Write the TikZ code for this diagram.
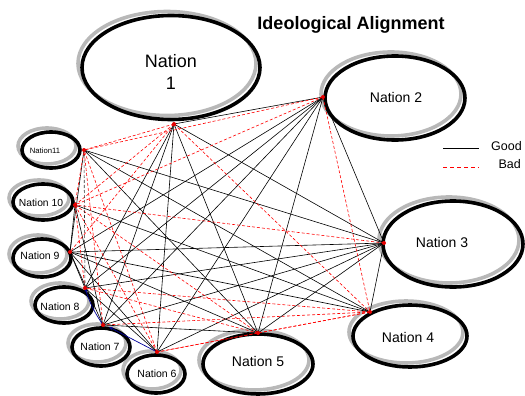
\documentclass[tikz,border=0pt]{standalone}
\usepackage{fontspec}
\setmainfont{Liberation Sans}
\usetikzlibrary{shapes.geometric,arrows.meta}
\begin{document}
\begin{tikzpicture}[x=1pt,y=-1pt,
  nat/.style={ellipse,draw=black,line width=3.6pt,inner sep=0pt},
  shad/.style={ellipse,draw=black!28,line width=3.6pt,inner sep=0pt},
  good/.style={draw=black,line width=0.6pt},
  bad/.style={draw=red,line width=0.6pt,dash pattern=on 3pt off 2pt},
  odd/.style={draw=black!80,line width=0.6pt,dash pattern=on 3pt off 2pt},
  blu/.style={draw=blue!60!black,line width=0.7pt,-{Stealth[length=4pt,width=3pt]}},
  mk/.style={circle,fill=red!90!black,inner sep=0pt,minimum size=4pt},
  lab/.style={inner sep=0pt,align=center}]
\useasboundingbox (0,0) rectangle (525,396);
% shadows
\foreach \n/\x/\y/\rx/\ry in {1/171/67.5/89/52, 2/395/98/70/42, 3/453/244/70/43, 4/410/336/57/31, 5/258/364/55/30, 6/156/374/29/19, 7/101/347/29/19, 8/64/305/29/18, 9/42/258/29/19, 10/43/202/30/18, 11/51/150/29/18}
  \node[shad,minimum width=2*\rx pt,minimum height=2*\ry pt] (s\n) at (\x-4,\y-4) {};
\foreach \n/\x/\y/\rx/\ry in {1/171/67.5/89/52, 2/395/98/70/42, 3/453/244/70/43, 4/410/336/57/31, 5/258/364/55/30, 6/156/374/29/19, 7/101/347/29/19, 8/64/305/29/18, 9/42/258/29/19, 10/43/202/30/18, 11/51/150/29/18}
  \node[nat,minimum width=2*\rx pt,minimum height=2*\ry pt] (n\n) at (\x,\y) {};
% labels
\node[lab,font=\fontsize{18}{22}\selectfont] (t1) at (171,72) {Nation\\1};
\node[lab,font=\fontsize{14}{16}\selectfont] (t2) at (396,97) {Nation 2};
\node[lab,font=\fontsize{14}{16}\selectfont] (t3) at (442,242) {Nation 3};
\node[lab,font=\fontsize{14}{16}\selectfont] (t4) at (408,337) {Nation 4};
\node[lab,font=\fontsize{14}{16}\selectfont] (t5) at (258,361) {Nation 5};
\node[lab,font=\fontsize{10.5}{12}\selectfont] (t6) at (157,374) {Nation 6};
\node[lab,font=\fontsize{10.5}{12}\selectfont] (t7) at (100,347) {Nation 7};
\node[lab,font=\fontsize{10.5}{12}\selectfont] (t8) at (60,307) {Nation 8};
\node[lab,font=\fontsize{10.5}{12}\selectfont] (t9) at (40,256) {Nation 9};
\node[lab,font=\fontsize{10.3}{12}\selectfont] (t10) at (41,203) {Nation 10};
\node[lab,font=\fontsize{7.7}{9}\selectfont] (t11) at (45,151) {Nation11};
\node[lab,font=\bfseries\fontsize{18}{20}\selectfont] (title) at (351,25) {Ideological Alignment};
% anchors
\coordinate (a1) at (174,124);
\coordinate (a2) at (323,97);
\coordinate (a3) at (384,243);
\coordinate (a4) at (370,312);
\coordinate (a5) at (258,333);
\coordinate (a6) at (157,352);
\coordinate (a7) at (103,325);
\coordinate (a7b) at (109,327);
\coordinate (a8) at (85,288);
\coordinate (a9) at (70,252);
\coordinate (a10) at (75,205);
\coordinate (a11) at (84,150);
% good edges
\foreach \u/\v in {1/2,1/3,1/5,1/6,1/7,1/8,2/3,2/5,2/6,2/7,2/8,2/9,3/4,3/5,3/6,3/7,3/8,3/9,3/11,4/9,4/10,4/11,5/7,5/9,5/11,6/8,6/9,7/9,7/10,8/9,9/10,9/11}
  \draw[good] (a\u) -- (a\v);
% bad edges
\foreach \u/\v in {1/4,1/9,1/10,1/11,2/4,2/10,2/11,3/10,4/5,4/6,4/7,4/8,5/6,5/8,5/10,6/10,6/11,7/11,8/10,10/11}
  \draw[bad] (a\u) -- (a\v);
\draw[odd] (a11) -- (a8);
% blue arrows
\draw[blu] (a7) to[bend left=8] (a8);
\draw[blu] (a6) -- (a7b);
% markers
\foreach \n in {1,...,11} \node[mk] (m\n) at (a\n) {};
% legend
\coordinate (g1) at (443,148); \coordinate (g2) at (479,148);
\coordinate (b1) at (443,167); \coordinate (b2) at (479,167);
\draw[draw=black,line width=1pt] (g1) -- (g2);
\draw[draw=red,line width=1pt,dash pattern=on 4pt off 3pt] (b1) -- (b2);
\node[lab,anchor=east,font=\fontsize{12.5}{14}\selectfont] (lg) at (522,146) {Good};
\node[lab,anchor=east,font=\fontsize{12.5}{14}\selectfont] (lb) at (521,164) {Bad};
\end{tikzpicture}
\end{document}
